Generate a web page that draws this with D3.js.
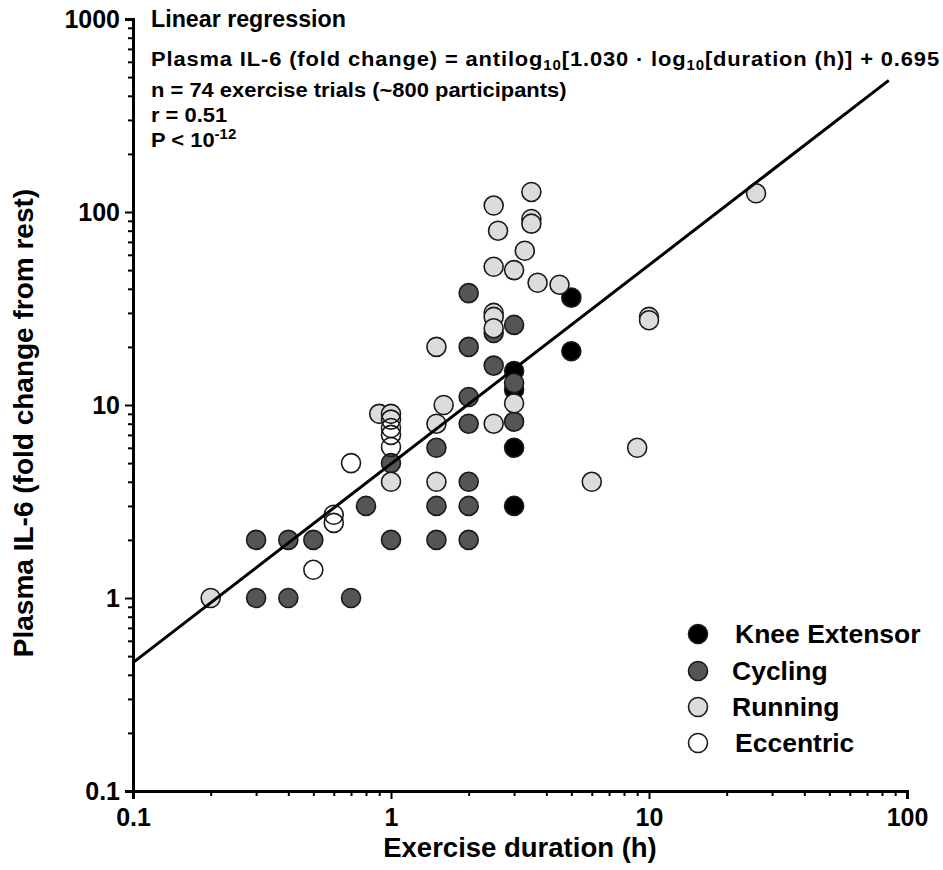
<!DOCTYPE html>
<html>
<head>
<meta charset="UTF-8">
<title>IL-6 vs exercise duration</title>
<script src="https://cdn.jsdelivr.net/npm/d3@7"></script>
<style>
  body { margin: 0; background: #fff; }
  text { font-family: "Liberation Sans", Arial, sans-serif; font-weight: bold; fill: #000; }
</style>
</head>
<body>
<script>
// data: [duration (h), IL-6 fold change]
var kneeExtensor = [[5, 36], [5, 19], [3, 15], [3, 12], [3, 6], [3, 3]];
var cycling = [[0.3, 2], [0.3, 1], [0.4, 2], [0.4, 1], [0.5, 2], [0.7, 1], [0.8, 3],
  [1, 2], [1, 5], [1.5, 2], [1.5, 3], [1.5, 6], [2, 2], [2, 3], [2, 4], [2, 8],
  [2, 11], [2, 20], [2, 38], [2.5, 16], [2.5, 23.6], [3, 26], [3, 13], [3, 8.2]];
var running = [[0.2, 1], [0.9, 9], [1, 9], [1, 4], [1.5, 20], [1.5, 8], [1.6, 10], [1.5, 4],
  [2.5, 108], [2.6, 80], [3.5, 127], [3.5, 92], [3.5, 87], [3.3, 63], [2.5, 52], [3, 50],
  [3.7, 43], [4.5, 42], [2.5, 30], [2.5, 28.6], [2.5, 25], [2.5, 8], [3, 10.2],
  [9, 6], [6, 4], [10, 28.6], [10, 27.5], [26, 125]];
var eccentric = [[0.5, 1.4], [0.6, 2.7], [0.6, 2.45], [0.7, 5], [1, 8.4], [1, 7.6], [1, 7], [1, 6.06]];

var groups = ['Knee Extensor', 'Cycling', 'Running', 'Eccentric'];
var groupData = [kneeExtensor, cycling, running, eccentric];
var groupFill = ['#000000', '#555555', '#dcdcdc', 'none'];

var xMajor = [0.1, 1, 10, 100];
var yMajor = [0.1, 1, 10, 100, 1000];
var xLabels = ['0.1', '1', '10', '100'];
var yLabels = ['0.1', '1', '10', '100', '1000'];

// regression: log10(IL6) = 1.030 * log10(duration) + 0.695
var slope = 1.030, intercept = 0.695;
var fitRange = [0.1, 85];

var W = 943, H = 870;
var svg = d3.select('body').append('svg').attr('width', W).attr('height', H);

var x = d3.scaleLog().domain([0.1, 100]).range([133, 907]);
var y = d3.scaleLog().domain([0.1, 1000]).range([791, 19]);

function minorTicks(major) {
  var out = [];
  for (var i = 0; i < major.length - 1; i++) {
    for (var k = 2; k <= 9; k++) out.push(+(major[i] * k).toPrecision(3));
  }
  return out;
}

// axes
var xMinor = svg.append('g').attr('transform', 'translate(0,791)')
  .call(d3.axisBottom(x).tickValues(minorTicks(xMajor)).tickSize(5).tickFormat(''));
var xAx = svg.append('g').attr('transform', 'translate(0,791)')
  .call(d3.axisBottom(x).tickValues(xMajor).tickSize(8).tickPadding(8)
    .tickFormat(function(d, i) { return xLabels[i]; }));
var yMinor = svg.append('g').attr('transform', 'translate(133,0)')
  .call(d3.axisLeft(y).tickValues(minorTicks(yMajor)).tickSize(5).tickFormat(''));
var yAx = svg.append('g').attr('transform', 'translate(133,0)')
  .call(d3.axisLeft(y).tickValues(yMajor).tickSize(8).tickPadding(5)
    .tickFormat(function(d, i) { return yLabels[i]; }));

svg.selectAll('.domain').attr('stroke', '#000').attr('stroke-width', 3);
svg.selectAll('.tick line').attr('stroke', '#000').attr('stroke-width', 2);
xAx.selectAll('.tick text').style('font-size', '25px').attr('dy', '0.75em');
yAx.selectAll('.tick text').style('font-size', '25px');
xMinor.select('.domain').remove();
yMinor.select('.domain').remove();

// axis titles
svg.append('text').attr('x', 520).attr('y', 857).attr('text-anchor', 'middle')
  .style('font-size', '27.5px').text('Exercise duration (h)');
svg.append('text').attr('transform', 'translate(33,' + 423 + ') rotate(-90)')
  .attr('text-anchor', 'middle').style('font-size', '28px')
  .text('Plasma IL-6 (fold change from rest)');

// points
groupData.forEach(function(data, gi) {
  svg.append('g').selectAll('circle').data(data).join('circle')
    .attr('cx', function(d) { return x(d[0]); })
    .attr('cy', function(d) { return y(d[1]); })
    .attr('r', 9.5)
    .attr('fill', groupFill[gi])
    .attr('stroke', '#1a1a1a')
    .attr('stroke-width', 1.6);
});

// regression line
var line = d3.line()
  .x(function(d) { return x(d); })
  .y(function(d) { return y(Math.pow(10, slope * Math.log10(d) + intercept)); });
svg.append('path').datum(fitRange).attr('d', line)
  .attr('fill', 'none').attr('stroke', '#000').attr('stroke-width', 3);

// annotation
function annLine(yPos, size, sx) {
  return svg.append('text')
    .attr('transform', 'translate(151,' + yPos + ') scale(' + sx + ',1)')
    .style('font-size', size + 'px');
}
annLine(27, 23, 1.01).text('Linear regression');
var l2 = annLine(66, 20.5, 1.07).style('letter-spacing', '0.8px');
l2.append('tspan').text('Plasma IL-6 (fold change) = antilog');
l2.append('tspan').attr('dy', 4).style('font-size', '14px').text('10');
l2.append('tspan').attr('dy', -4).text('[1.030 \u00b7 log');
l2.append('tspan').attr('dy', 4).style('font-size', '14px').text('10');
l2.append('tspan').attr('dy', -4).text('[duration (h)] + 0.695');
annLine(97, 20.5, 1.07).text('n = 74 exercise trials (~800 participants)');
annLine(122, 20.5, 1.07).text('r = 0.51');
var l5 = annLine(147, 20.5, 1.07);
l5.append('tspan').text('P < 10');
l5.append('tspan').attr('dy', -8).style('font-size', '14px').text('-12');

// legend
var legY = [634, 671, 707, 743];
var leg = svg.append('g');
groups.forEach(function(name, i) {
  leg.append('circle').attr('cx', 698).attr('cy', legY[i]).attr('r', 9.5)
    .attr('fill', groupFill[i] === 'none' ? '#fff' : groupFill[i])
    .attr('stroke', '#1a1a1a').attr('stroke-width', 1.6);
  leg.append('text').attr('x', i === 0 || i === 3 ? 735 : 732).attr('y', legY[i] + 9)
    .style('font-size', '26.5px').text(name);
});
</script>
</body>
</html>
